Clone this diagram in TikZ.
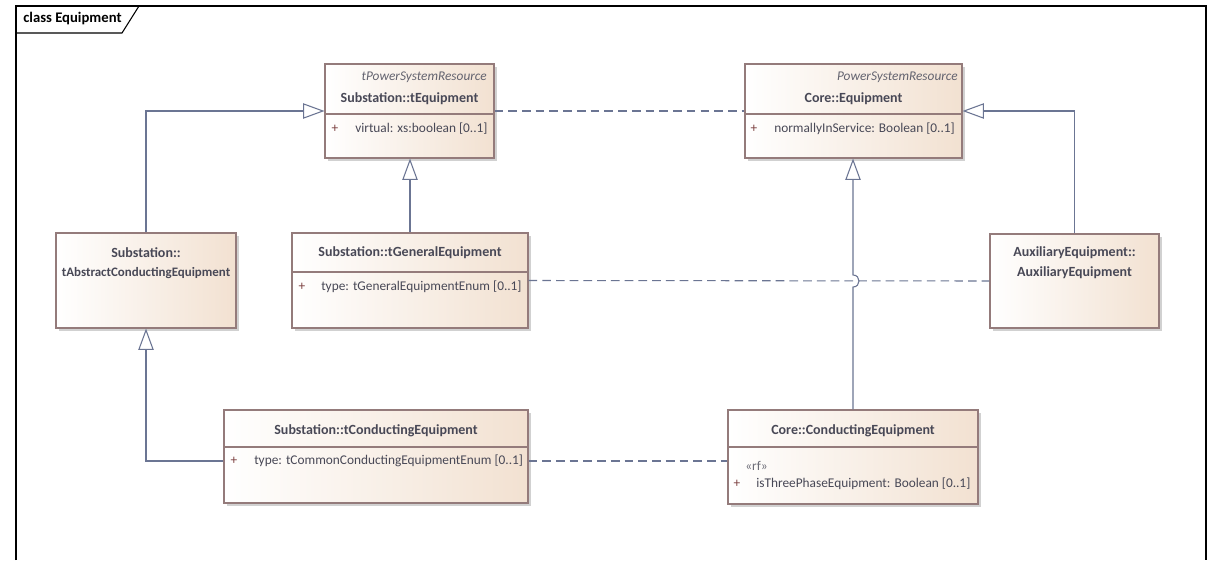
\documentclass[tikz,border=0pt]{standalone}
\usepackage{fontspec}
\setmainfont{Carlito}
\usetikzlibrary{arrows.meta,shadows,fit,calc}
\definecolor{boxfill}{HTML}{F2E1D1}
\definecolor{boxdraw}{HTML}{947B7B}
\definecolor{linec}{HTML}{6B7593}
\definecolor{txt}{HTML}{484856}
\definecolor{plusc}{HTML}{7B3F3F}
\begin{document}
\begin{tikzpicture}[x=0.75pt,y=-0.75pt,
  cls/.style={draw=boxdraw, line width=0.8pt, left color=white, right color=boxfill, inner sep=0pt,
    drop shadow={shadow xshift=2pt,shadow yshift=-2pt,fill=black!40,opacity=0.45}},
  divider/.style={draw=boxdraw, line width=0.8pt},
  cname/.style={font=\fontsize{10.5}{12}\selectfont\bfseries, text=txt, inner sep=0pt},
  stereo/.style={font=\fontsize{10}{12}\selectfont\itshape, text=txt!85, inner sep=0pt},
  attr/.style={font=\fontsize{10}{12}\selectfont, text=txt, inner sep=0pt},
  plus/.style={font=\fontsize{10}{12}\selectfont, text=plusc, inner sep=0pt},
  gen/.style={draw=linec, line width=0.8pt, -{Triangle[open, length=16pt, width=11.5pt, fill=white]}},
  dep/.style={draw=linec, line width=0.8pt, dash pattern=on 6.5pt off 3.8pt}]
\useasboundingbox (0,0) rectangle (1216,560);
\fill[white] (0,0) rectangle (1216,560);
% frame
\draw[black, line width=0.8pt] (16,560) -- (16,6) -- (1206,6) -- (1206,560);
\draw[black, line width=0.8pt] (16,33) -- (122,33) -- (139,6);
\node[anchor=west, inner sep=0pt, font=\fontsize{11}{13}\selectfont\bfseries] (title) at (23,19) {class Equipment};

% tEquipment
\node[cls, fit={(325,64) (494,158)}] (teq) {};
\draw[divider] (325,114) -- (494,114);
\node[stereo, anchor=east] (teqS) at (487,77) {tPowerSystemResource};
\node[cname] (teqN) at (409.5,99) {Substation::tEquipment};
\node[plus] (teqP) at (335,129) {+};
\node[attr, anchor=west] (teqA) at (355,129) {virtual: xs:boolean [0..1]};

% Core::Equipment
\node[cls, fit={(745,64) (962,158)}] (ceq) {};
\draw[divider] (745,114) -- (962,114);
\node[stereo, anchor=east] (ceqS) at (958,77) {PowerSystemResource};
\node[cname] (ceqN) at (853.5,99) {Core::Equipment};
\node[plus] (ceqP) at (754,129) {+};
\node[attr, anchor=west] (ceqA) at (774,129) {normallyInService: Boolean [0..1]};

% tAbstractConductingEquipment
\node[cls, fit={(56,233) (236,328)}] (tabs) {};
\node[cname] (tabsN1) at (146,253) {Substation::};
\node[cname, font=\fontsize{9.7}{12}\selectfont\bfseries] (tabsN2) at (146,273) {tAbstractConductingEquipment};

% tGeneralEquipment
\node[cls, fit={(292,233) (528,328)}] (tgen) {};
\draw[divider] (292,272) -- (528,272);
\node[cname] (tgenN) at (410,253) {Substation::tGeneralEquipment};
\node[plus] (tgenP) at (302,287) {+};
\node[attr, anchor=west] (tgenA) at (321,287) {type: tGeneralEquipmentEnum [0..1]};

% AuxiliaryEquipment
\node[cls, fit={(990,234) (1159,328)}] (aux) {};
\node[cname] (auxN1) at (1074.5,253) {AuxiliaryEquipment::};
\node[cname] (auxN2) at (1074.5,273) {AuxiliaryEquipment};

% tConductingEquipment
\node[cls, fit={(224,410) (528,503)}] (tcond) {};
\draw[divider] (224,447) -- (528,447);
\node[cname] (tcondN) at (376,431) {Substation::tConductingEquipment};
\node[plus] (tcondP) at (234,461) {+};
\node[attr, anchor=west] (tcondA) at (254,461) {type: tCommonConductingEquipmentEnum [0..1]};

% Core::ConductingEquipment
\node[cls, fit={(728,410) (978,504)}] (ccond) {};
\draw[divider] (728,447) -- (978,447);
\node[cname] (ccondN) at (853,431) {Core::ConductingEquipment};
\node[attr, anchor=west, text=txt!80] (ccondR) at (745,466) {«rf»};
\node[plus] (ccondP) at (737,484) {+};
\node[attr, anchor=west] (ccondA) at (756,484) {isThreePhaseEquipment: Boolean [0..1]};

% connectors
\coordinate (tcondE) at ($(tcond.east)+(0,4.5)$);
\coordinate (tcondW) at ($(tcond.west)+(0,4.5)$);
\coordinate (hopB) at (853,287);
\coordinate (hopT) at (853,275);
\draw[dep] (teq.east) -- (ceq.west);
\draw[dep] (tgen.east) -- (aux.west);
\draw[dep] (tcondE) -- (ccond.west |- tcondE);
\draw[gen] (tabs.north) |- (teq.west);
\draw[gen] (tgen.north) -- (tgen.north |- teq.south);
\draw[gen] (aux.north) |- (ceq.east);
\draw[gen] (tcondW) -| (tabs.south);
\draw[gen] (ccond.north) -- (hopB) .. controls ($(hopB)+(8,0)$) and ($(hopT)+(8,0)$) .. (hopT) -- (ccond.north |- ceq.south);
\end{tikzpicture}
\end{document}
